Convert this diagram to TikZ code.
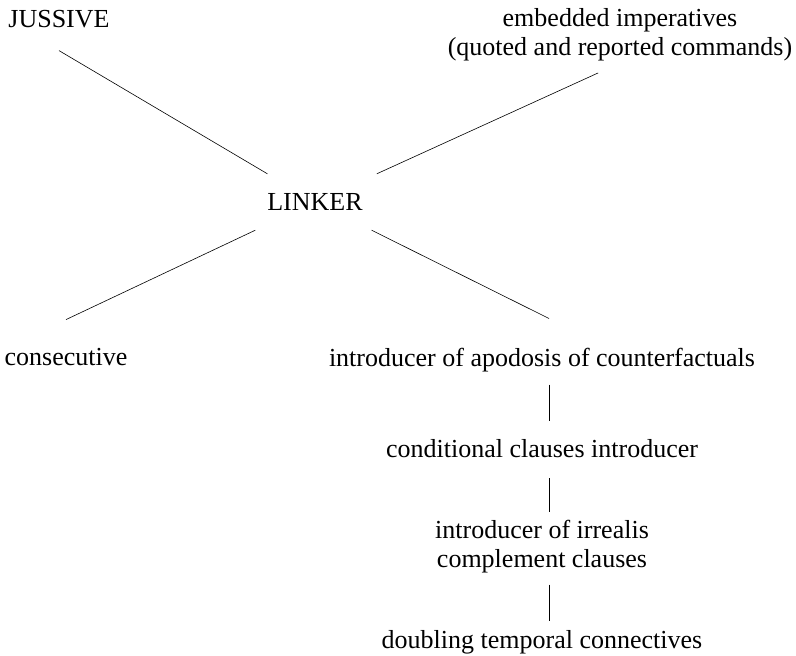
\documentclass[tikz,border=0pt]{standalone}
\usepackage{fontspec}
\setmainfont{Liberation Serif}
\usepackage{tikz}

\begin{document}
\begin{tikzpicture}[
        x=1pt, y=-1pt,
        term/.style={inner sep=0pt, anchor=base, align=center, font=\fontsize{26pt}{29pt}\selectfont},
        hub/.style={inner sep=0pt, minimum width=130pt, minimum height=56pt, font=\fontsize{26pt}{29pt}\selectfont},
        link/.style={line width=0.6pt}
    ]
        \useasboundingbox (0,0) rectangle (796,656);

        % Top row
        \node[term] (jussive) at (59,27) {JUSSIVE};
        \node[term, anchor=north] (embedded) at (620,8) {embedded imperatives\\(quoted and reported commands)};

        % Centre
        \node[hub] (linker) at (315,202) {LINKER};

        % Lower row
        \node[term] (consecutive) at (66,365) {consecutive};
        \node[term] (apodosis) at (542,366) {introducer of apodosis of counterfactuals};

        % Right column
        \node[term] (conditional) at (542,457) {conditional clauses introducer};
        \node[term] (irrealis) at (542,567) {introducer of irrealis\\complement clauses};
        \node[term] (doubling) at (542,648) {doubling temporal connectives};
        \coordinate (spine) at (549,400);

        % Lines from the centre
        \draw[link] (linker) -- ([yshift=-23pt]jussive.south);
        \draw[link, shorten >=24pt] (linker) -- ([yshift=-2pt]embedded.south);
        \draw[link] (linker) -- ([yshift=28pt]consecutive.north);
        \draw[link] (linker) -- ([yshift=29pt]apodosis.north -| spine);

        % Vertical lines
        \draw[link, shorten <=13pt, shorten >=18pt] (apodosis.south -| spine) -- (conditional.north -| spine);
        \draw[link, shorten <=21pt, shorten >=7pt] (conditional.south -| spine) -- (irrealis.north -| spine);
        \draw[link, shorten <=12pt, shorten >=9pt] (irrealis.south -| spine) -- (doubling.north -| spine);
    \end{tikzpicture}
\end{document}
